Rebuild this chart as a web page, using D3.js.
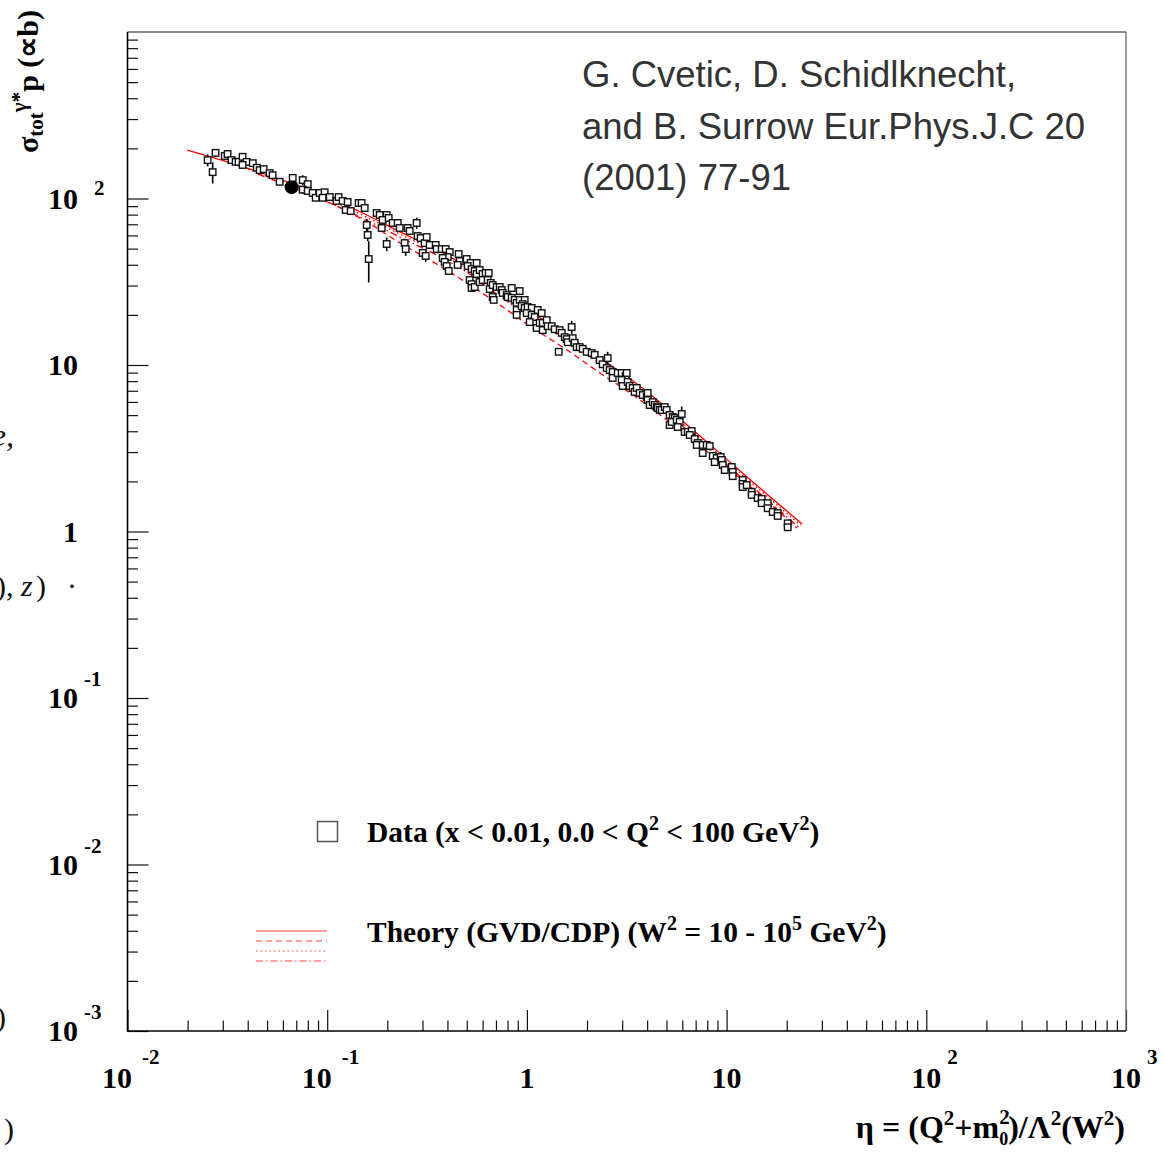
<!DOCTYPE html>
<html>
<head>
<meta charset="utf-8">
<script src="https://cdn.jsdelivr.net/npm/d3@7"></script>
<style>
body { margin: 0; background: #fff; }
svg { display: block; }
.lbl { font-family: "Liberation Serif", "Times New Roman", serif; font-weight: bold; fill: #000; }
.frag { font-family: "Liberation Serif", "Times New Roman", serif; fill: #111; }
</style>
</head>
<body>
<svg id="chart" width="1163" height="1152"></svg>
<script>
// sigma_tot(gamma* p) vs eta, data points [eta, sigma, err]
var dataPts = [
  [0.0252,170,14],[0.0267,144,21],[0.0276,188,10],[0.0307,180],[0.0317,185],[0.0332,170],
  [0.0348,166],[0.0360,166],[0.0377,178],[0.0395,166],[0.0377,159],[0.0424,163],
  [0.0444,153],[0.0459,148],[0.0481,150],[0.0515,142],[0.0533,138],[0.0578,126],
  [0.0672,133],[0.0754,129,9],[0.0799,122],[0.0754,113],[0.0799,111],[0.0846,108],
  [0.0876,101],[0.0917,108],[0.0971,109],[0.0949,101],[0.103,102],[0.1115,96.6],
  [0.1141,102],[0.1195,96.6],[0.1238,85.3],[0.1266,95.3],[0.1311,84.1],[0.1437,94.0],
  [0.1488,94.0],[0.1541,87.7],[0.1577,69.3,6],[0.1595,60.4,5],[0.1614,43.3,12],[0.1769,81.8],
  [0.1832,79.6],[0.1986,79.6],[0.1896,74.3],[0.1875,66.5],[0.2032,76.4],[0.1986,53.3,5],
  [0.2128,71.3],[0.2254,71.3],[0.2307,66.5],[0.2443,54.0],[0.2472,49.7,4.5],[0.2529,66.5],
  [0.2588,63.8],[0.2806,71.3,5.5],[0.2838,59.5],[0.2938,57.9],[0.3077,54.0],[0.3149,58.7],
  [0.3007,47.1],[0.3113,45.2,3.5],[0.3260,52.6],[0.3494,52.6],[0.3534,49.7],[0.3744,49.7],
  [0.3921,49.7],[0.4107,47.7],[0.4013,44.5],[0.3788,43.9],[0.3876,41.6],[0.3967,39.3],
  [0.4060,36.7],[0.4555,46.4],[0.4608,42.1],[0.4502,39.9],[0.4994,43.3],[0.5229,41.0],
  [0.5052,39.3],[0.5290,37.7],[0.5604,41.0],[0.5477,36.7],[0.5604,35.2],[0.5801,37.2],
  [0.6005,35.2],[0.6218,35.7],[0.6437,35.7],[0.5169,32.4],[0.5290,30.6],[0.5290,29.0],
  [0.5477,29.4],[0.5801,31.5],[0.6005,32.4],[0.6363,32.4],[0.6587,31.1],[0.6512,28.6],
  [0.6741,30.2],[0.7060,29.4],[0.7308,29.4],[0.7478,28.2],[0.6741,25.6],[0.6819,24.6],
  [0.7565,27.1],[0.7921,26.3],[0.8013,25.6],[0.8393,29.0],[0.9204,27.8],[0.8393,25.3],
  [0.8687,24.6],[0.8890,23.6],[0.9204,24.6],[0.9750,24.6],[0.9528,23.2],[0.8890,21.4],
  [0.8890,20.0,1.2],[0.9418,22.6],[0.9750,22.0],[1.009,22.3],[1.057,22.0],[0.998,20.5],
  [1.057,20.0],[1.094,19.4],[1.033,18.1],[1.133,21.4],[1.186,20.5],[1.120,16.7],
  [1.159,17.9],[1.200,17.9],[1.257,18.6],[1.200,16.2],[1.271,17.1],[1.331,17.1],
  [1.378,16.4],[1.460,16.2],[1.494,15.6],[1.676,16.9,1.5],[1.547,14.7],[1.582,14.3],
  [1.601,13.7],[1.696,14.5],[1.735,13.6],[1.443,12.0],[1.776,12.8],[1.838,12.8],
  [1.903,12.5],[1.993,12.0],[2.111,11.8],[2.185,11.5],[2.315,10.7],[2.397,10.1],
  [2.539,11.0,1],[2.510,9.59],[2.598,9.33],[2.690,9.08],[2.690,8.36],[2.849,8.95],
  [2.984,8.95],[3.124,8.59],[3.161,8.95],[2.984,8.13],[3.018,7.48],[3.198,7.91],
  [3.272,7.48],[3.387,7.28],[3.466,6.89],[3.547,7.28],[3.672,6.79],[3.802,6.60],
  [3.981,6.42],[4.027,6.79],[4.027,6.16],[4.121,5.75],[4.266,5.99],[4.365,5.75],
  [4.467,5.59],[4.519,5.52],[4.625,5.37],[4.732,5.37],[4.899,5.59],[5.013,5.37],
  [5.189,5.01],[5.373,4.87],[5.499,4.80],[5.189,4.36],[5.312,4.55],[5.627,4.68],
  [5.825,4.55],[5.960,5.08,0.55],[5.692,4.24],[6.170,3.96],[6.389,3.96],[6.690,4.01],
  [6.537,3.80],[6.925,3.59],[7.170,3.40],[7.087,3.31],[7.593,3.31],[7.951,3.31],
  [8.232,3.26],[7.593,2.96],[8.521,2.84],[8.923,2.76],[8.720,2.61],[9.344,2.80,0.2],
  [9.452,2.69],[9.563,2.51],[9.786,2.34],[10.61,2.44],[10.73,2.28],[10.73,2.15],
  [12.04,2.04],[12.04,1.93],[12.04,1.85],[12.61,1.90],[13.36,1.73],[13.36,1.66],
  [14.31,1.59],[14.99,1.57],[14.99,1.48],[16.06,1.48],[16.06,1.38],[17.02,1.31],
  [18.03,1.29],[18.03,1.24],[20.23,1.12],[20.23,1.06]
];
// dense cluster of photoproduction points (drawn filled)
var clusterPts = [[0.0664,117]];

// GVD/CDP curves for several W^2
var theorySolid = [[0.0199,195],[0.0366,157],[0.0652,124],[0.103,101],[0.158,79.6],[0.232,63.0],
  [0.339,50.5],[0.501,38.8],[0.733,27.8],[1.07,20.5],[1.59,15.1],[2.32,11.0],[3.40,8.02],
  [5.03,5.52],[7.36,3.75],[10.8,2.51],[15.9,1.68],[23.9,1.11]];
var theoryDashed = [[0.0731,109],[0.103,94.0],[0.158,72.3],[0.232,54.0],[0.339,41.6],[0.501,31.1],
  [0.733,22.9],[1.07,16.7],[1.59,12.3],[2.32,8.96],[3.40,6.61],[5.03,4.67],[7.36,3.26],
  [10.8,2.25],[15.9,1.53],[22.5,1.05]];
var theoryDotted = [[0.0300,170],[0.0652,121],[0.103,98],[0.158,77],[0.232,61],[0.339,49],
  [0.501,37.5],[0.733,27],[1.07,19.9],[1.59,14.6],[2.32,10.7],[3.40,7.78],[5.03,5.35],[7.36,3.64],
  [10.8,2.44],[15.9,1.63],[23.5,1.09]];
var theoryDashDot = [[0.045,140],[0.103,94],[0.158,74],[0.232,58.5],[0.339,47],[0.501,36],[0.733,25.8],
  [1.07,19],[1.59,14],[2.32,10.2],[3.40,7.45],[5.03,5.13],[7.36,3.49],[10.8,2.33],[15.9,1.56],[23.0,1.06]];

var xMajor = [1e-2, 1e-1, 1, 10, 100, 1000];
var xBase = ['10','10','1','10','10','10'];
var xExp = ['-2','-1','','','2','3'];
var yMajor = [1e-3, 1e-2, 1e-1, 1, 10, 100];
var yBase = ['10','10','10','1','10','10'];
var yExp = ['-3','-2','-1','','','2'];

var citation = ['G. Cvetic, D. Schidlknecht,', 'and B. Surrow Eur.Phys.J.C 20', '(2001) 77-91'];

var svg = d3.select('#chart');
var x = d3.scaleLog().domain([1e-2, 1e3]).range([127.5, 1126]);
var y = d3.scaleLog().domain([1e-3, 1e3]).range([1031, 32]);
var isPow = function(v){ return Math.abs(Math.log10(v) - Math.round(Math.log10(v))) < 1e-9; };

svg.append('rect').attr('width',1163).attr('height',1152).attr('fill','#fff');

// ticks
var xMinor = x.ticks().filter(function(v){ return !isPow(v); });
var yMinor = y.ticks().filter(function(v){ return !isPow(v); });

function tickStyle(sel){
  sel.select('.domain').remove();
  sel.selectAll('line').attr('stroke','#111').attr('stroke-width',1.2);
}
svg.append('g').attr('transform','translate(0,1031)')
  .call(d3.axisBottom(x).tickValues(xMinor).tickSize(-10.5).tickFormat('')).call(tickStyle);
svg.append('g').attr('transform','translate(0,1031)')
  .call(d3.axisBottom(x).tickValues(xMajor).tickSize(-21).tickFormat('')).call(tickStyle);
svg.append('g').attr('transform','translate(127.5,0)')
  .call(d3.axisLeft(y).tickValues(yMinor).tickSize(-10.5).tickFormat('')).call(tickStyle);
svg.append('g').attr('transform','translate(127.5,0)')
  .call(d3.axisLeft(y).tickValues(yMajor).tickSize(-21).tickFormat('')).call(tickStyle);

// frame
svg.append('line').attr('x1',127.5).attr('x2',1126).attr('y1',32).attr('y2',32).attr('stroke','#666').attr('stroke-width',1.3);
svg.append('line').attr('x1',1126).attr('x2',1126).attr('y1',32).attr('y2',1031).attr('stroke','#666').attr('stroke-width',1.3);
svg.append('line').attr('x1',127.5).attr('x2',127.5).attr('y1',32).attr('y2',1031.5).attr('stroke','#000').attr('stroke-width',1.6);
svg.append('line').attr('x1',127).attr('x2',1126).attr('y1',1031).attr('y2',1031).attr('stroke','#000').attr('stroke-width',1.6);

// tick labels
xMajor.forEach(function(v,i){
  var neg = xExp[i].charAt(0) === '-';
  var cx = x(v) + (neg ? -10.5 : 0);
  svg.append('text').attr('class','lbl').attr('x',cx).attr('y',1088)
    .attr('text-anchor','middle').attr('font-size',30).text(xBase[i]);
  if (xExp[i]) svg.append('text').attr('class','lbl').attr('x',cx + (neg ? 25 : 21)).attr('y',1064)
    .attr('font-size',21).text(xExp[i]);
});
yMajor.forEach(function(v,i){
  var neg = yExp[i].charAt(0) === '-';
  svg.append('text').attr('class','lbl').attr('x',78).attr('y',y(v)+10)
    .attr('text-anchor','end').attr('font-size',30).text(yBase[i]);
  if (yExp[i]) svg.append('text').attr('class','lbl').attr('x',neg ? 84 : 94).attr('y',y(v) + (neg ? -12 : -4))
    .attr('font-size',21).text(yExp[i]);
});

// axis titles
var yt = svg.append('text').attr('class','lbl').attr('font-size',30)
  .attr('transform','translate(38,10) rotate(-90)').attr('text-anchor','end');
yt.append('tspan').text('σ');
yt.append('tspan').attr('font-size',21).attr('dy',5).text('tot');
yt.append('tspan').attr('font-size',21).attr('dy',-17).text('γ*');
yt.append('tspan').attr('dy',12).text('p (∝b)');

var xt = svg.append('text').attr('class','lbl').attr('font-size',32)
  .attr('x',1125).attr('y',1138).attr('text-anchor','end');
xt.append('tspan').text('η = (Q');
xt.append('tspan').attr('font-size',21).attr('dy',-13).text('2');
xt.append('tspan').attr('dy',13).text('+m');
xt.append('tspan').attr('font-size',21).attr('dy',-14).text('2');
xt.append('tspan').attr('font-size',18).attr('dx',-10.5).attr('dy',21).text('0');
xt.append('tspan').attr('dy',-7).text(')/Λ');
xt.append('tspan').attr('font-size',21).attr('dy',-13).text('2');
xt.append('tspan').attr('dy',13).text('(W');
xt.append('tspan').attr('font-size',21).attr('dy',-13).text('2');
xt.append('tspan').attr('dy',13).text(')');

// plot contents, clipped
svg.append('clipPath').attr('id','plotclip').append('rect')
  .attr('x',128).attr('y',32).attr('width',998).attr('height',999);
var plot = svg.append('g').attr('clip-path','url(#plotclip)');

var line = d3.line().x(function(d){ return x(d[0]); }).y(function(d){ return y(d[1]); })
  .curve(d3.curveMonotoneX);
var curves = [
  { data: theoryDashDot, dash: '7,3,1.5,3' },
  { data: theoryDotted, dash: '1.5,3' },
  { data: theoryDashed, dash: '6,4' },
  { data: theorySolid, dash: null }
];
curves.forEach(function(c){
  plot.append('path').datum(c.data).attr('d',line).attr('fill','none')
    .attr('stroke','#ff0000').attr('stroke-width',1.3).attr('stroke-dasharray',c.dash);
});

// error bars
plot.selectAll('line.err').data(dataPts.filter(function(d){ return d.length > 2; }))
  .enter().append('line').attr('class','err')
  .attr('x1',function(d){ return x(d[0]); }).attr('x2',function(d){ return x(d[0]); })
  .attr('y1',function(d){ return y(d[1]+d[2]); }).attr('y2',function(d){ return y(Math.max(d[1]-d[2],1e-3)); })
  .attr('stroke','#000').attr('stroke-width',1.6);

plot.selectAll('circle.cl').data(clusterPts).enter().append('circle')
  .attr('cx',function(d){ return x(d[0]); }).attr('cy',function(d){ return y(d[1]); })
  .attr('r',7).attr('fill','#000');

plot.selectAll('rect.pt').data(dataPts).enter().append('rect').attr('class','pt')
  .attr('x',function(d){ return x(d[0]) - 3.25; }).attr('y',function(d){ return y(d[1]) - 3.25; })
  .attr('width',6.5).attr('height',6.5).attr('fill','#fff').attr('stroke','#111').attr('stroke-width',1.4);

// legend
svg.append('rect').attr('x',317.5).attr('y',821.5).attr('width',20).attr('height',20)
  .attr('fill','none').attr('stroke','#555').attr('stroke-width',1.5);
var l1 = svg.append('text').attr('class','lbl').attr('font-size',29.5).attr('x',367).attr('y',842);
l1.append('tspan').text('Data (x < 0.01, 0.0 < Q');
l1.append('tspan').attr('font-size',20).attr('dy',-12).text('2');
l1.append('tspan').attr('dy',12).text(' < 100 GeV');
l1.append('tspan').attr('font-size',20).attr('dy',-12).text('2');
l1.append('tspan').attr('dy',12).text(')');

[null,'6,4','1.5,3','7,3,1.5,3'].forEach(function(dash,i){
  svg.append('line').attr('x1',256).attr('x2',327).attr('y1',931 + i*10).attr('y2',931 + i*10)
    .attr('stroke','#f44').attr('stroke-width',1.2).attr('stroke-dasharray',dash);
});
var l2 = svg.append('text').attr('class','lbl').attr('font-size',29.5).attr('x',367).attr('y',942);
l2.append('tspan').text('Theory (GVD/CDP) (W');
l2.append('tspan').attr('font-size',20).attr('dy',-12).text('2');
l2.append('tspan').attr('dy',12).text(' = 10 - 10');
l2.append('tspan').attr('font-size',20).attr('dy',-12).text('5');
l2.append('tspan').attr('dy',12).text(' GeV');
l2.append('tspan').attr('font-size',20).attr('dy',-12).text('2');
l2.append('tspan').attr('dy',12).text(')');

// citation
citation.forEach(function(s,i){
  svg.append('text').attr('x',582).attr('y',87 + i*51.5)
    .attr('font-family','"Liberation Sans", Arial, sans-serif').attr('font-size',36.5)
    .attr('fill','#333').text(s);
});

// fragments of neighbouring slide text at the left edge
svg.append('text').attr('class','frag').attr('x',14).attr('y',446).attr('text-anchor','end')
  .attr('font-size',32).attr('font-style','italic').attr('fill','#b5124f').text('e,');
var f2 = svg.append('text').attr('class','frag').attr('y',596).attr('font-size',30);
f2.append('tspan').attr('x',-4).text('),');
f2.append('tspan').attr('x',21).attr('font-style','italic').text('z');
f2.append('tspan').attr('x',36).text(')');
f2.append('tspan').attr('x',67).text('·');
svg.append('text').attr('class','frag').attr('x',6).attr('y',1027).attr('text-anchor','end').attr('font-size',30).text(')');
svg.append('text').attr('class','frag').attr('x',14).attr('y',1139).attr('text-anchor','end').attr('font-size',30).text(')');
</script>
</body>
</html>
